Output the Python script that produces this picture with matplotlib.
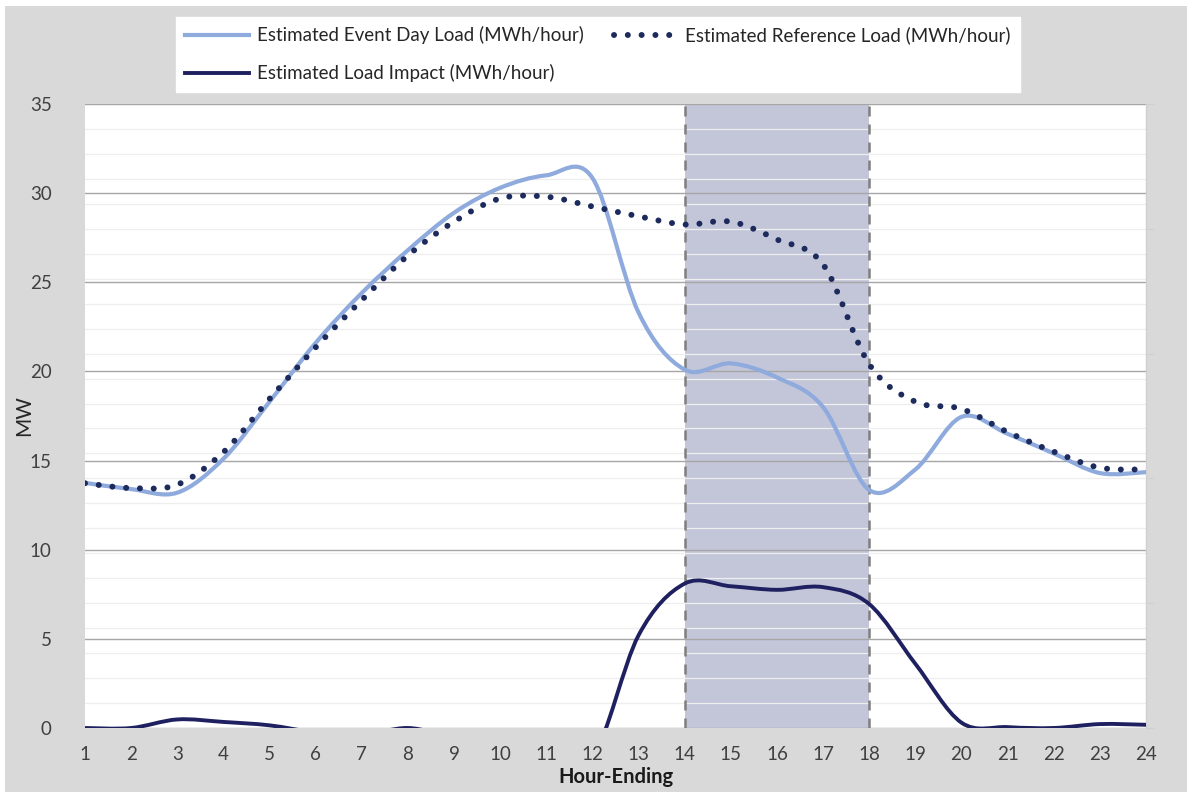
import numpy as np
import matplotlib
matplotlib.use("Agg")
import matplotlib.pyplot as plt
from matplotlib.path import Path
from matplotlib.patches import PathPatch, Rectangle
from matplotlib.lines import Line2D

plt.rcParams['font.family'] = ['Lato', 'DejaVu Sans']

# hourly values, hour-ending 1..24
hours = list(range(1, 25))
event_load = [13.75, 13.4, 13.2, 15.1, 18.3, 21.6, 24.4, 26.8, 28.9, 30.3, 31.0, 30.85,
              23.3, 20.1, 20.45, 19.66, 18.0, 13.35, 14.5, 17.45, 16.5, 15.4, 14.3, 14.35]
reference_load = [13.73, 13.46, 13.65, 15.47, 18.46, 21.35, 24.0, 26.5, 28.4, 29.7, 29.8, 29.25,
                  28.7, 28.24, 28.4, 27.4, 26.0, 20.4, 18.3, 17.9, 16.6, 15.5, 14.6, 14.5]
load_impact = [0.0, 0.0, 0.48, 0.34, 0.15, -0.25, -0.4, 0.0, -0.5, -0.6, -1.2, -1.6,
               5.2, 8.1, 7.95, 7.75, 7.9, 6.95, 3.6, 0.3, 0.05, 0.0, 0.22, 0.18]
event_window = (14, 18)

c_event = '#8faadc'
c_ref = '#1c2a5c'
c_impact = '#1e2060'
dots = (0, (0.01, 2.3))


def smooth_path(x, y):
    # Excel-style smoothed line: cubic bezier through each point (catmull-rom, tension 1/6)
    n = len(x)
    verts = [(x[0], y[0])]
    codes = [Path.MOVETO]
    for i in range(n - 1):
        xa, ya = (x[i - 1], y[i - 1]) if i > 0 else (x[i], y[i])
        xb, yb = (x[i + 2], y[i + 2]) if i + 2 < n else (x[i + 1], y[i + 1])
        c1 = (x[i] + (x[i + 1] - xa) / 6, y[i] + (y[i + 1] - ya) / 6)
        c2 = (x[i + 1] - (xb - x[i]) / 6, y[i + 1] - (yb - y[i]) / 6)
        verts += [c1, c2, (x[i + 1], y[i + 1])]
        codes += [Path.CURVE4] * 3
    return Path(verts, codes)


fig = plt.figure(figsize=(11.87, 7.92), dpi=100, facecolor='white')
fig.patches.append(Rectangle((5 / 1187, 0), 1, 1 - 6 / 792, transform=fig.transFigure,
                             facecolor='#d9d9d9', edgecolor='none', zorder=-10))

ax = fig.add_axes([85 / 1187, 1 - 728 / 792, (1146 - 85) / 1187, (728 - 104) / 792])
ax.set_facecolor('white')
ax.set_xlim(1, 24)
ax.set_ylim(0, 35)
ax.set_axisbelow('line')

ax.set_xticks(hours)
ax.set_yticks(np.arange(0, 36, 5))
ax.set_yticks(np.linspace(0, 35, 26), minor=True)
ax.yaxis.grid(True, which='minor', color='#eeeeee', lw=0.9)
ax.yaxis.grid(True, which='major', color='#a6a6a6', lw=1.0)
ax.tick_params(axis='both', which='both', length=0, labelsize=13.5, labelcolor='#404040')
ax.tick_params(axis='x', pad=13)
ax.tick_params(axis='y', pad=24)
for s in ['top', 'left', 'bottom']:
    ax.spines[s].set_visible(False)
ax.spines['right'].set_color('#d0d0d0')
ax.spines['right'].set_linewidth(1.0)

# small ticks outside the right edge
sec = ax.secondary_yaxis('right')
sec.set_yticks(np.arange(0, 36, 7))
sec.tick_params(length=6, color='#d0d0d0', labelright=False)
sec.spines['right'].set_visible(False)

# event window
ax.axvspan(event_window[0], event_window[1], color='#c3c6d9', zorder=1, lw=0)
for xv in event_window:
    ax.axvline(xv, color='#7f7f7f', lw=1.8, ls=(0, (4, 3.2)), zorder=3)

ax.add_patch(PathPatch(smooth_path(hours, event_load), fill=False, edgecolor=c_event,
                       lw=3.0, zorder=4, capstyle='round'))
ax.add_patch(PathPatch(smooth_path(hours, reference_load), fill=False, edgecolor=c_ref,
                       lw=4.3, ls=dots, capstyle='round', zorder=5))
ax.add_patch(PathPatch(smooth_path(hours, load_impact), fill=False, edgecolor=c_impact,
                       lw=2.8, zorder=4, capstyle='round'))

ax.set_ylabel('MW', fontsize=15, color='#262626')
ax.yaxis.set_label_coords(-51 / 1061, 0.5)
ax.set_xlabel('Hour-Ending', fontsize=14.5, fontweight='bold', color='#1a1a1a', labelpad=3)

handles = [
    Line2D([], [], color=c_event, lw=3.0),
    Line2D([], [], color=c_impact, lw=2.8),
    Line2D([], [], color=c_ref, lw=4.3, ls=dots, dash_capstyle='round'),
]
labels = ['Estimated Event Day Load (MWh/hour)',
          'Estimated Load Impact (MWh/hour)',
          'Estimated Reference Load (MWh/hour)']
leg = fig.legend(handles, labels, ncol=2, loc='upper left',
                 bbox_to_anchor=(176 / 1187, 1 - 17 / 792), fontsize=13.5,
                 frameon=True, fancybox=False, framealpha=1, edgecolor='white',
                 facecolor='white', handlelength=3.4, handletextpad=0.4,
                 columnspacing=1.6, labelspacing=1.05, borderpad=0.5, borderaxespad=0)
for t in leg.get_texts():
    t.set_color('#262626')

fig.savefig('out.png', dpi=100, facecolor=fig.get_facecolor())
